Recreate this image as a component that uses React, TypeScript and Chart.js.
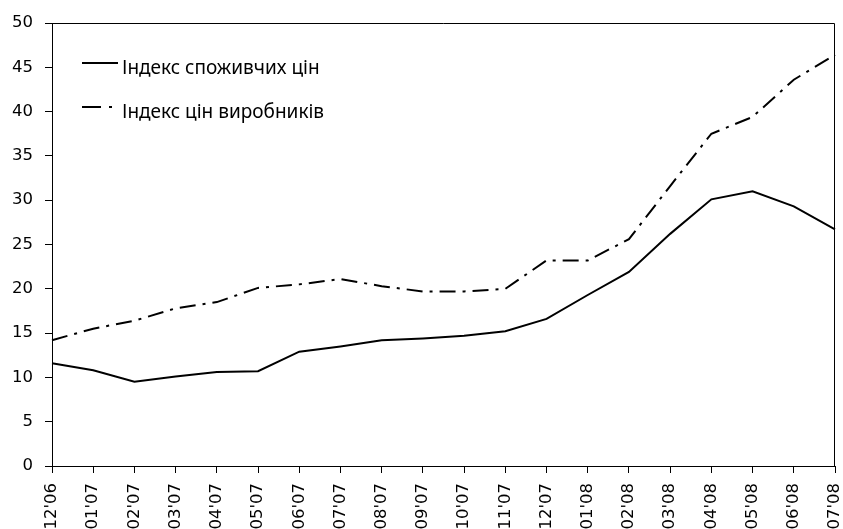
import React, { useEffect, useRef } from "react";
import { Chart, registerables } from "chart.js";

Chart.register(...registerables);

const categories = ["12'06", "01'07", "02'07", "03'07", "04'07", "05'07", "06'07", "07'07", "08'07", "09'07", "10'07", "11'07", "12'07", "01'08", "02'08", "03'08", "04'08", "05'08", "06'08", "07'08"];
const cpiLabel = "Індекс споживчих цін";
const ppiLabel = "Індекс цін виробників";
const cpiValues = [11.6, 10.8, 9.5, 10.1, 10.6, 10.7, 12.9, 13.5, 14.2, 14.4, 14.7, 15.2, 16.6, 19.3, 21.9, 26.2, 30.1, 31.0, 29.3, 26.7];
const ppiValues = [14.2, 15.5, 16.4, 17.8, 18.5, 20.1, 20.5, 21.1, 20.3, 19.7, 19.7, 20.0, 23.2, 23.2, 25.6, 31.6, 37.5, 39.4, 43.6, 46.4];
const yMin = 0;
const yMax = 50;
const yStep = 5;

const FONT = "'Noto Sans', sans-serif";
const TICK_FONT = "'DejaVu Sans', sans-serif";

const boxAndLegend = {
  id: "boxAndLegend",
  afterDraw(chart: any) {
    const { ctx, chartArea } = chart;
    const { left, right, top, bottom } = chartArea;
    ctx.save();
    ctx.strokeStyle = "#000";
    ctx.lineWidth = 1;
    ctx.beginPath();
    ctx.moveTo(left, top + 0.5);
    ctx.lineTo(right - 0.5, top + 0.5);
    ctx.lineTo(right - 0.5, bottom);
    ctx.stroke();

    const items = chart.data.datasets;
    items.forEach((ds: any, i: number) => {
      const y = top + 40 + i * 44;
      ctx.beginPath();
      ctx.lineWidth = 2;
      ctx.setLineDash(ds.borderDash ? [19, 8, 3, 100] : []);
      ctx.moveTo(left + 30, y);
      ctx.lineTo(left + 66, y);
      ctx.stroke();
      ctx.setLineDash([]);
      ctx.fillStyle = "#000";
      ctx.font = "19px " + FONT;
      ctx.textBaseline = "alphabetic";
      ctx.textAlign = "left";
      ctx.fillText(ds.label, left + 70, y + 10.5);
    });
    ctx.restore();
  },
};

export default function App() {
  const ref = useRef<HTMLCanvasElement>(null);
  useEffect(() => {
    if (!ref.current) return;
    const chart = new Chart(ref.current, {
      type: "line",
      data: {
        labels: categories,
        datasets: [
          {
            label: cpiLabel,
            data: cpiValues,
            borderColor: "#000",
            borderWidth: 2,
            pointRadius: 0,
            tension: 0,
            fill: false,
          },
          {
            label: ppiLabel,
            data: ppiValues,
            borderColor: "#000",
            borderWidth: 2,
            borderDash: [16, 7, 3, 7],
            pointRadius: 0,
            tension: 0,
            fill: false,
          },
        ],
      },
      options: {
        animation: false,
        responsive: true,
        maintainAspectRatio: false,
        layout: { padding: { left: 0, top: 23, right: 0, bottom: 0 } },
        plugins: { legend: { display: false }, tooltip: { enabled: false } },
        scales: {
          x: {
            offset: false,
            border: { display: true, color: "#000", width: 1 },
            grid: { display: true, drawOnChartArea: false, drawTicks: true, tickLength: 7, color: "#000" },
            ticks: {
              color: "#000",
              font: { family: TICK_FONT, size: 16.5 },
              maxRotation: 90,
              minRotation: 90,
              autoSkip: false,
              padding: 10,
            },
            afterFit(scale: any) {
              scale.height = 63;
              scale.paddingRight = 8;
              scale.paddingLeft = 0;
            },
          },
          y: {
            min: yMin,
            max: yMax,
            border: { display: true, color: "#000", width: 1 },
            grid: { display: true, drawOnChartArea: false, drawTicks: true, tickLength: 7, color: "#000" },
            ticks: {
              stepSize: yStep,
              color: "#000",
              font: { family: TICK_FONT, size: 16.5 },
              padding: 12,
            },
            afterFit(scale: any) {
              scale.width = 52;
              scale.paddingTop = 0;
              scale.paddingBottom = 0;
            },
          },
        },
      },
      plugins: [boxAndLegend],
    });
    return () => chart.destroy();
  }, []);
  return (
    <div style={{ position: "absolute", left: 0, top: 0, width: 843, height: 529 }}>
      <canvas ref={ref} />
    </div>
  );
}
